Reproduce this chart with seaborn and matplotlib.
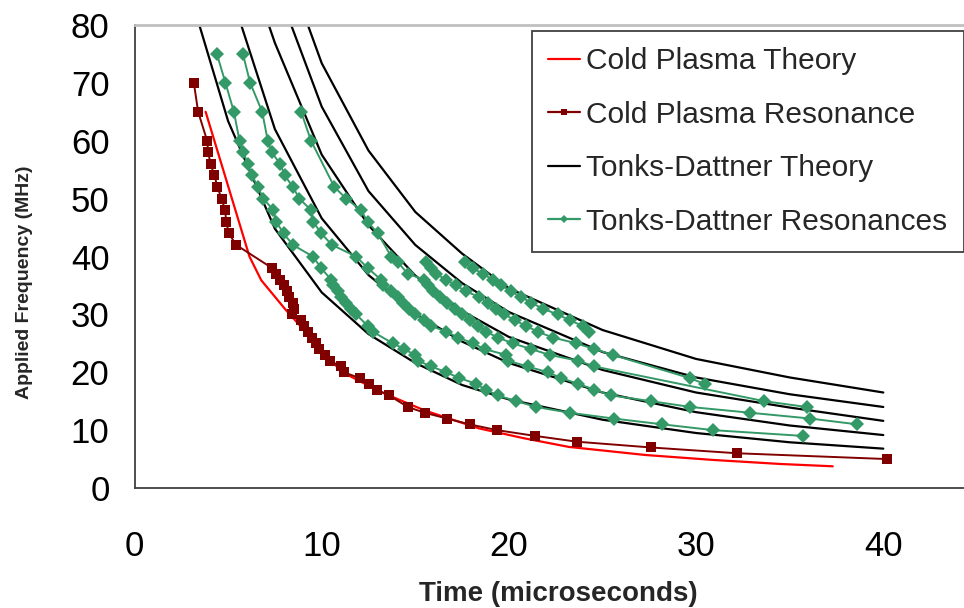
import matplotlib
matplotlib.use("Agg")
import matplotlib.pyplot as plt
from matplotlib.lines import Line2D
import seaborn as sns

# ---------------- data ----------------
# Cold plasma theory (red line)
cp_theory_t = [3.8, 6.14, 6.77, 8.1, 9.7, 11.05, 13.15, 15.5, 18.4, 20.8, 23.2, 27.3, 30.9, 34.5, 37.3]
cp_theory_f = [65.0, 40.0, 35.9, 30.7, 25.0, 20.1, 16.6, 13.4, 10.3, 8.6, 7.1, 5.7, 4.85, 4.15, 3.75]

# Cold plasma resonance (dark red squares)
cp_res_t = [3.17, 3.40, 3.88, 3.94, 4.06, 4.27, 4.43, 4.65, 4.84, 4.90, 5.04, 5.43, 7.35, 7.57, 7.78,
            7.96, 8.14, 8.24, 8.46, 8.50, 8.40, 8.90, 9.08, 9.26, 9.49, 9.67, 9.88, 10.2, 10.42, 11.04,
            11.18, 12.02, 12.52, 12.95, 13.6, 14.6, 15.5, 16.7, 17.9, 19.36, 21.4, 23.63, 27.6, 32.2, 40.2]
cp_res_f = [70, 65, 60, 58, 56, 54, 52, 50, 48, 46, 44, 42, 38, 37, 36,
            35, 34, 33, 32, 31, 30, 29, 28, 27, 26, 25, 24, 23, 22, 21,
            20, 19, 18, 17, 16, 14, 13, 12, 11, 10, 9, 8, 7, 6, 5]

# Tonks-Dattner theory (five black curves)
td_theory_t = [3, 5, 7.5, 10, 12.5, 15, 17.5, 20, 25, 30, 35, 40]
td_theory_1 = [85, 63.4, 44.8, 33.8, 26.6, 21.6, 17.8, 15.3, 11.8, 9.5, 7.9, 6.8]
td_theory_2 = [115, 87, 62, 46.6, 36.8, 30.1, 25.3, 21.6, 16.5, 13.1, 10.8, 9.15]
td_theory_3 = [140, 100.4, 76.9, 57.6, 45.4, 36.7, 30.6, 26.1, 20.4, 16.5, 13.9, 11.6]
td_theory_4 = [160, 120, 87.5, 65.9, 51.3, 42.0, 35.4, 30.4, 23.5, 19.1, 16.2, 14.0]
td_theory_5 = [180, 130, 95.7, 73.4, 58.3, 47.7, 40.5, 34.5, 27.3, 22.3, 19.1, 16.5]

# Tonks-Dattner resonances (five green series)
td_res1_t = [4.40, 4.86, 5.31, 5.61, 5.82, 6.05, 6.28, 6.59, 6.89, 7.42, 7.57, 7.96, 8.46, 9.53, 9.97,
             10.5, 10.6, 10.86, 11.04, 11.31, 11.58, 11.84, 12.46, 12.73, 13.8, 14.42, 14.96, 15.14,
             15.85, 16.65, 17.36, 18.25, 18.75, 19.4, 20.4, 21.46, 23.24, 25.6, 28.2, 30.9, 35.7]
td_res1_f = [75, 70, 65, 60, 58, 56, 54, 52, 50, 48, 46, 44, 42, 40, 38,
             36, 35, 34, 33, 32, 31, 30, 28, 27, 25, 24, 23, 22,
             21, 20, 19, 18, 17, 16, 15, 14, 13, 12, 11, 10, 9]
td_res2_t = [5.79, 6.18, 6.82, 7.12, 7.33, 7.78, 8.03, 8.46, 8.81, 9.43, 9.55, 9.97, 10.55, 11.84, 12.46,
             13.17, 13.26, 13.71, 14.07, 14.33, 14.69, 14.96, 15.49, 15.85, 16.65, 17.3, 18.07, 18.7,
             19.85, 19.94, 21.0, 22.08, 22.8, 23.68, 24.57, 25.46, 27.6, 29.7, 32.9, 36.1, 38.6]
td_res2_f = [75, 70, 65, 60, 58, 56, 54, 52, 50, 48, 46, 44, 42, 40, 38,
             36, 35, 34, 33, 32, 31, 30, 29, 28, 27, 26, 25, 24,
             23, 22, 21, 20, 19, 18, 17, 16, 15, 14, 13, 12, 11]
td_res3_t = [8.9, 9.43, 10.68, 11.31, 12.1, 12.46, 13.0, 13.71, 14.07, 14.6, 15.49, 15.7, 15.94, 16.3,
             16.7, 17.1, 17.5, 17.9, 18.35, 18.79, 19.41, 20.2, 21.19, 22.17, 23.68, 24.57, 33.65, 35.9]
td_res3_f = [65, 60, 52, 50, 48, 46, 44, 40, 39, 37, 36, 35, 34, 33,
             32, 31, 30, 29, 28, 27, 26, 25, 24, 23, 22, 21, 15, 14]
td_res4_t = [15.58, 15.85, 16.1, 16.65, 17.18, 17.71, 18.4, 18.87, 19.32, 19.76, 20.3, 20.92, 21.54,
             22.35, 23.6, 24.57, 25.55, 29.65, 30.45]
td_res4_f = [39, 38, 37, 36, 35, 34, 33, 32, 31, 30, 29, 28, 27, 26, 25, 24, 23, 19, 18]
td_res5_t = [17.63, 18.07, 18.6, 19.14, 19.6, 20.1, 20.65, 21.2, 21.8, 22.6, 23.24, 23.95, 24.3]
td_res5_f = [39, 38, 37, 36, 35, 34, 33, 32, 31, 30, 29, 28, 27]

x_ticks = [0, 10, 20, 30, 40]
y_ticks = [0, 10, 20, 30, 40, 50, 60, 70, 80]
legend_labels = ["Cold Plasma Theory", "Cold Plasma Resonance",
                 "Tonks-Dattner Theory", "Tonks-Dattner Resonances"]
x_label = "Time (microseconds)"
y_label = "Applied Frequency (MHz)"

# ---------------- style ----------------
sns.set_style("white")
plt.rcParams["font.family"] = ["Liberation Sans", "DejaVu Sans"]

RED = "#FF0000"
DARKRED = "#800000"
BLACK = "#000000"
GREEN = "#339966"

fig = plt.figure(figsize=(9.64, 6.08), dpi=100)
ax = fig.add_axes([134.5 / 964, 120 / 608, 842.4 / 964, 463 / 608])

# Cold plasma theory
sns.lineplot(x=cp_theory_t, y=cp_theory_f, ax=ax, color=RED, lw=1.6,
             sort=False, estimator=None, legend=False)
# Cold plasma resonance
sns.lineplot(x=cp_res_t, y=cp_res_f, ax=ax, color=DARKRED, lw=1.4,
             marker="s", markersize=7.3, markeredgewidth=0, markerfacecolor=DARKRED,
             sort=False, estimator=None, legend=False)
# Tonks-Dattner theory
for curve in [td_theory_1, td_theory_2, td_theory_3, td_theory_4, td_theory_5]:
    sns.lineplot(x=td_theory_t, y=curve, ax=ax, color=BLACK, lw=1.6,
                 sort=False, estimator=None, legend=False)
# Tonks-Dattner resonances
for tt, ff in [(td_res1_t, td_res1_f), (td_res2_t, td_res2_f), (td_res3_t, td_res3_f),
               (td_res4_t, td_res4_f), (td_res5_t, td_res5_f)]:
    sns.lineplot(x=tt, y=ff, ax=ax, color=GREEN, lw=1.4,
                 marker="D", markersize=6.8, markeredgewidth=0, markerfacecolor=GREEN,
                 sort=False, estimator=None, legend=False)

ax.set_xlim(0, 45)
ax.set_ylim(0, 80)
ax.set_xticks(x_ticks)
ax.set_yticks(y_ticks)
ax.tick_params(axis="both", direction="out", length=7, width=1.0, color="#404040",
               labelsize=25, labelcolor="black")
ax.tick_params(axis="x", pad=23)
ax.tick_params(axis="y", pad=11)
ax.grid(False)

ax.spines["right"].set_visible(False)
ax.spines["top"].set_color("#c0c0c0")
ax.spines["top"].set_linewidth(2.0)
ax.spines["left"].set_color("#404040")
ax.spines["left"].set_linewidth(1.3)
ax.spines["bottom"].set_color("#404040")
ax.spines["bottom"].set_linewidth(1.3)

ax.set_xlabel(x_label, fontsize=20, fontweight="bold")
ax.xaxis.set_label_coords((558 - 134.5) / 842.4, -(594 - 488) / 463)
ax.xaxis.label.set_va("center")
ax.set_ylabel(y_label, fontsize=14, fontweight="bold")
ax.yaxis.set_label_coords((25 - 134.5) / 842.4, (488 - 282) / 463)
ax.yaxis.label.set_va("center")

handles = [
    Line2D([], [], color=RED, lw=1.6),
    Line2D([], [], color=DARKRED, lw=1.6, marker="s", markersize=5, markeredgewidth=0),
    Line2D([], [], color=BLACK, lw=1.6),
    Line2D([], [], color=GREEN, lw=1.6, marker="D", markersize=4.5, markeredgewidth=0),
]
leg = fig.legend(handles, legend_labels, loc="upper left",
                 bbox_to_anchor=(532 / 964, 1 - 31 / 608), bbox_transform=fig.transFigure,
                 fontsize=21.5, frameon=True, fancybox=False, borderpad=0.55,
                 labelspacing=0.85, handlelength=1.05, handletextpad=0.22, borderaxespad=0)
leg.get_frame().set_edgecolor("#404040")
leg.get_frame().set_linewidth(1.3)
leg.get_frame().set_facecolor("white")
leg.get_frame().set_alpha(1.0)

fig.savefig("out.png", dpi=100)
